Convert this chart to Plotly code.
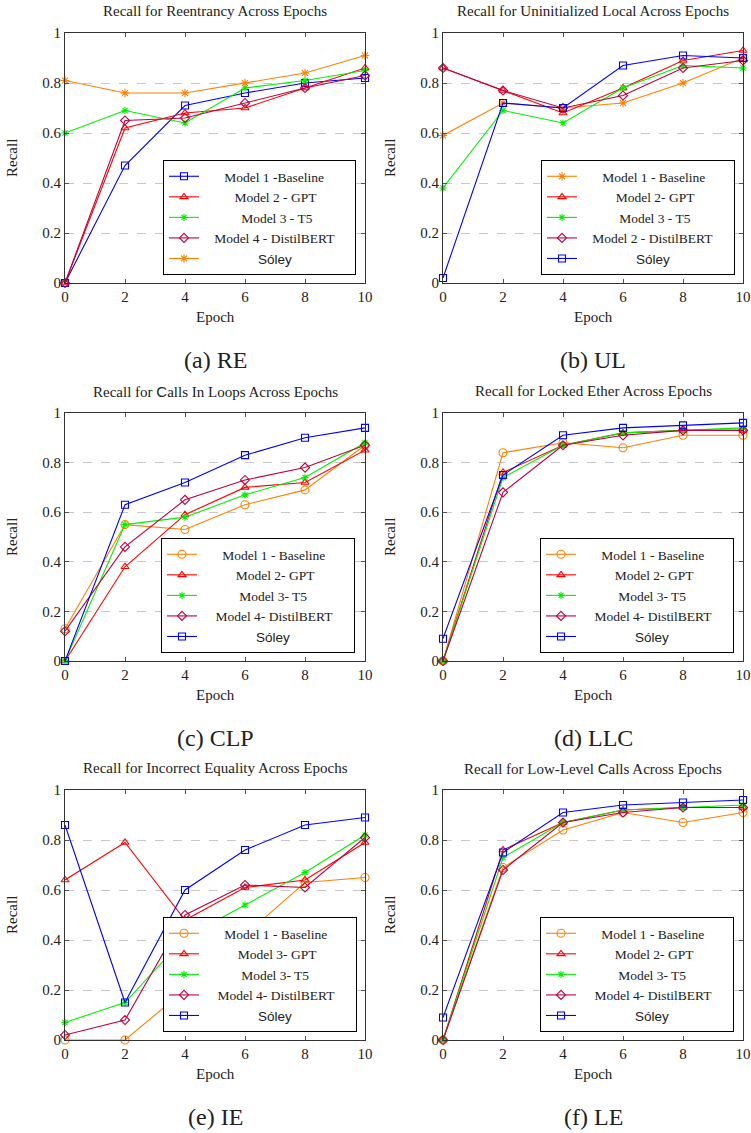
import plotly.graph_objects as go

W, H = 751, 1133

epochs = [0, 2, 4, 6, 8, 10]

# (a) Reentrancy
re_baseline = [0.00, 0.47, 0.71, 0.76, 0.80, 0.82]
re_gpt = [0.00, 0.62, 0.68, 0.70, 0.78, 0.86]
re_t5 = [0.60, 0.69, 0.64, 0.78, 0.81, 0.85]
re_distil = [0.00, 0.65, 0.66, 0.72, 0.78, 0.83]
re_soley = [0.81, 0.76, 0.76, 0.80, 0.84, 0.91]

# (b) Uninitialized Local
ul_baseline = [0.59, 0.72, 0.70, 0.72, 0.80, 0.90]
ul_gpt = [0.86, 0.77, 0.68, 0.78, 0.89, 0.93]
ul_t5 = [0.38, 0.69, 0.64, 0.78, 0.87, 0.86]
ul_distil = [0.86, 0.77, 0.70, 0.75, 0.86, 0.89]
ul_soley = [0.02, 0.72, 0.70, 0.87, 0.91, 0.90]

# (c) Calls In Loops
clp_baseline = [0.13, 0.55, 0.53, 0.63, 0.69, 0.87]
clp_gpt = [0.00, 0.38, 0.59, 0.70, 0.72, 0.85]
clp_t5 = [0.00, 0.55, 0.58, 0.67, 0.74, 0.88]
clp_distil = [0.12, 0.46, 0.65, 0.73, 0.78, 0.87]
clp_soley = [0.00, 0.63, 0.72, 0.83, 0.90, 0.94]

# (d) Locked Ether
llc_baseline = [0.00, 0.84, 0.88, 0.86, 0.91, 0.91]
llc_gpt = [0.00, 0.76, 0.87, 0.92, 0.93, 0.93]
llc_t5 = [0.00, 0.74, 0.87, 0.92, 0.93, 0.94]
llc_distil = [0.00, 0.68, 0.87, 0.91, 0.93, 0.93]
llc_soley = [0.09, 0.75, 0.91, 0.94, 0.95, 0.96]

# (e) Incorrect Equality
ie_baseline = [0.00, 0.00, 0.20, 0.42, 0.63, 0.65]
ie_gpt = [0.64, 0.79, 0.48, 0.61, 0.64, 0.79]
ie_t5 = [0.07, 0.15, 0.41, 0.54, 0.67, 0.82]
ie_distil = [0.02, 0.08, 0.50, 0.62, 0.61, 0.81]
ie_soley = [0.86, 0.15, 0.60, 0.76, 0.86, 0.89]

# (f) Low-Level Calls
le_baseline = [0.00, 0.69, 0.84, 0.91, 0.87, 0.91]
le_gpt = [0.00, 0.76, 0.87, 0.92, 0.93, 0.93]
le_t5 = [0.00, 0.73, 0.87, 0.92, 0.93, 0.94]
le_distil = [0.00, 0.68, 0.87, 0.91, 0.93, 0.93]
le_soley = [0.09, 0.75, 0.91, 0.94, 0.95, 0.96]

y_ticks = [0, 0.2, 0.4, 0.6, 0.8, 1]
y_ticklabels = ["0", "0.2", "0.4", "0.6", "0.8", "1"]
x_ticks = [0, 2, 4, 6, 8, 10]

SERIF = "Liberation Serif, DejaVu Serif, Times New Roman, serif"
SANS = "Liberation Sans, Arial, sans-serif"
LEG_FS = 13.5

BLUE = "#0000FF"
RED = "#FF0000"
GREEN = "#00F000"
PURPLE = "#BF0040"
ORANGE = "#FF8000"

STY = {
    "blue_sq": dict(color=BLUE, symbol="square-open", size=7),
    "red_tri": dict(color=RED, symbol="triangle-up-open", size=7),
    "green_star": dict(color=GREEN, symbol="asterisk-open", size=6),
    "purple_dia": dict(color=PURPLE, symbol="diamond-open", size=7),
    "orange_ast": dict(color=ORANGE, symbol="asterisk-open", size=7),
    "orange_circ": dict(color=ORANGE, symbol="circle-open", size=8),
}

SOLEY = "Sóley"

panels = [
    dict(title="Recall for Reentrancy Across Epochs", caption="(a) RE",
         series=[("Model 1 -Baseline", re_baseline, "blue_sq"),
                 ("Model 2 - GPT", re_gpt, "red_tri"),
                 ("Model 3 - T5", re_t5, "green_star"),
                 ("Model 4 - DistilBERT", re_distil, "purple_dia"),
                 (SOLEY, re_soley, "orange_ast")]),
    dict(title="Recall for Uninitialized Local Across Epochs", caption="(b) UL",
         series=[("Model 1 - Baseline", ul_baseline, "orange_ast"),
                 ("Model 2- GPT", ul_gpt, "red_tri"),
                 ("Model 3 - T5", ul_t5, "green_star"),
                 ("Model 2 - DistilBERT", ul_distil, "purple_dia"),
                 (SOLEY, ul_soley, "blue_sq")]),
    dict(title=f'Recall for <span style="font-family:{SANS}">C</span>alls In Loops Across Epochs', caption="(c) CLP",
         series=[("Model 1 - Baseline", clp_baseline, "orange_circ"),
                 ("Model 2- GPT", clp_gpt, "red_tri"),
                 ("Model 3- T5", clp_t5, "green_star"),
                 ("Model 4- DistilBERT", clp_distil, "purple_dia"),
                 (SOLEY, clp_soley, "blue_sq")]),
    dict(title="Recall for Locked Ether Across Epochs", caption="(d) LLC",
         series=[("Model 1 - Baseline", llc_baseline, "orange_circ"),
                 ("Model 2- GPT", llc_gpt, "red_tri"),
                 ("Model 3- T5", llc_t5, "green_star"),
                 ("Model 4- DistilBERT", llc_distil, "purple_dia"),
                 (SOLEY, llc_soley, "blue_sq")]),
    dict(title="Recall for Incorrect Equality Across Epochs", caption="(e) IE",
         series=[("Model 1 - Baseline", ie_baseline, "orange_circ"),
                 ("Model 3- GPT", ie_gpt, "red_tri"),
                 ("Model 3- T5", ie_t5, "green_star"),
                 ("Model 4- DistilBERT", ie_distil, "purple_dia"),
                 (SOLEY, ie_soley, "blue_sq")]),
    dict(title=f'Recall for Low-Level <span style="font-family:{SANS}">C</span>alls Across Epochs', caption="(f) LE",
         series=[("Model 1 - Baseline", le_baseline, "orange_circ"),
                 ("Model 2- GPT", le_gpt, "red_tri"),
                 ("Model 3- T5", le_t5, "green_star"),
                 ("Model 4- DistilBERT", le_distil, "purple_dia"),
                 (SOLEY, le_soley, "blue_sq")]),
]

# plot-area pixel boxes (left, right, top, bottom)
COLS = [(65, 365), (443, 743)]
ROWS = [(33, 283), (413, 661), (790, 1040)]
# legend box right/bottom in pixels
LEG = [(356, 275), (735, 275), (355, 653), (734, 653), (357, 1032), (734, 1032)]

# approximate Times-like advance widths (em/1000) used only to centre legend labels
_TW = {" ": 250, "-": 333, "M": 889, "o": 500, "d": 500, "e": 444, "l": 278, "B": 667,
       "a": 444, "s": 389, "i": 278, "n": 500, "G": 722, "P": 556, "T": 611, "D": 722,
       "E": 611, "R": 667, "t": 278}
LABEL_EM = 10600  # target label width so the legend box is as wide as the reference


def text_w(s):
    if s == SOLEY:
        return 2500
    return sum(_TW.get(ch, 500) for ch in s)


def legend_label(name):
    pad = max(0, round((LABEL_EM - text_w(name)) / 2 / 250))
    body = f'<span style="font-family:{SANS}">{SOLEY}</span>' if name == SOLEY else name
    return "\u00a0" * pad + body + "\u00a0" * pad


def px(x):
    return x / W


def py(y):
    return 1 - y / H


fig = go.Figure()
layout = dict(width=W, height=H, margin=dict(l=0, r=0, t=0, b=0, pad=0, autoexpand=False),
              template="none", plot_bgcolor="white", paper_bgcolor="white",
              font=dict(family=SERIF, size=13, color="#222"))
annotations = []

for i, p in enumerate(panels):
    r, c = divmod(i, 2)
    (xl, xr), (yt, yb) = COLS[c], ROWS[r]
    k = "" if i == 0 else str(i + 1)
    leg = "legend" if i == 0 else f"legend{i + 1}"
    for name, vals, sk in p["series"]:
        s = STY[sk]
        fig.add_trace(go.Scatter(
            x=epochs, y=vals, name=legend_label(name), mode="lines+markers",
            xaxis="x" + k, yaxis="y" + k, legend=leg, cliponaxis=False,
            line=dict(color=s["color"], width=1.1),
            marker=dict(symbol=s["symbol"], size=s["size"], color=s["color"],
                        line=dict(color=s["color"], width=1.1)),
        ))
    axcommon = dict(showline=True, linecolor="#333", linewidth=1, mirror="ticks",
                    ticks="inside", ticklen=4, tickcolor="#555", zeroline=False,
                    automargin=False,
                    tickfont=dict(family=SERIF, size=15, color="#222"))
    layout["xaxis" + k] = dict(domain=[px(xl), px(xr)], anchor="y" + k, range=[0, 10],
                               tickvals=x_ticks, showgrid=False, **axcommon)
    layout["yaxis" + k] = dict(domain=[py(yb), py(yt)], anchor="x" + k, range=[0, 1],
                               tickvals=y_ticks, ticktext=y_ticklabels, showgrid=True,
                               gridcolor="#c8c8c8", griddash="dash", gridwidth=1,
                               **axcommon)
    lx, ly = LEG[i]
    layout[leg] = dict(x=px(lx), y=py(ly), xanchor="right", yanchor="bottom",
                       bgcolor="white", bordercolor="black", borderwidth=1,
                       font=dict(family=SERIF, size=LEG_FS, color="#222"),
                       tracegroupgap=0, itemwidth=30)
    cx = (xl + xr) / 2
    annotations.append(dict(text=p["title"], x=px(cx), y=py(yt - 22), xref="paper", yref="paper",
                            showarrow=False, font=dict(family=SERIF, size=15, color="#222"),
                            xanchor="center", yanchor="middle"))
    annotations.append(dict(text="Epoch", x=px(cx), y=py(yb + 34), xref="paper", yref="paper",
                            showarrow=False, font=dict(family=SERIF, size=15, color="#222"),
                            xanchor="center", yanchor="middle"))
    annotations.append(dict(text="Recall", x=px(xl - 53), y=py((yt + yb) / 2), xref="paper",
                            yref="paper", showarrow=False, textangle=-90,
                            font=dict(family=SERIF, size=15, color="#222"),
                            xanchor="center", yanchor="middle"))
    annotations.append(dict(text=p["caption"], x=px(cx), y=py(yb + 77), xref="paper", yref="paper",
                            showarrow=False, font=dict(family=SERIF, size=24, color="#222"),
                            xanchor="center", yanchor="middle"))

layout["annotations"] = annotations
fig.update_layout(**layout)
fig.write_html("out.html", config={"displayModeBar": False},
               post_script="document.body.style.margin='0';document.body.style.padding='0';")
